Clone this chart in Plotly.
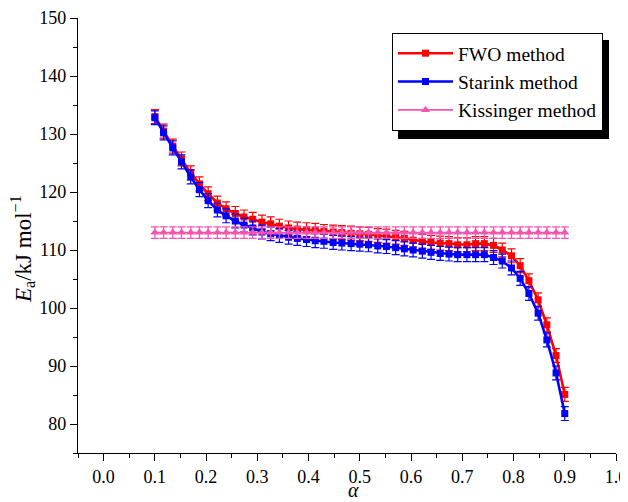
import plotly.graph_objects as go

alpha = [0.100, 0.117, 0.135, 0.152, 0.170, 0.187, 0.204, 0.222, 0.239, 0.257,
         0.274, 0.291, 0.309, 0.326, 0.343, 0.361, 0.378, 0.396, 0.413, 0.430,
         0.448, 0.465, 0.483, 0.500, 0.517, 0.535, 0.552, 0.570, 0.587, 0.604,
         0.622, 0.639, 0.657, 0.674, 0.691, 0.709, 0.726, 0.743, 0.761, 0.778,
         0.796, 0.813, 0.830, 0.848, 0.865, 0.883, 0.900]

fwo = [133.0, 130.5, 127.9, 125.7, 123.3, 121.4, 119.7, 118.1, 117.1, 116.3,
       115.7, 115.3, 114.8, 114.5, 114.1, 113.8, 113.6, 113.5, 113.4, 113.2,
       113.1, 113.0, 112.9, 112.8, 112.7, 112.5, 112.4, 112.2, 112.0, 111.7,
       111.5, 111.3, 111.2, 111.1, 110.9, 110.9, 111.1, 111.1, 110.8, 110.0,
       109.0, 107.3, 104.7, 101.4, 97.1, 91.8, 85.1]
fwo_err = [1.2] * 47

starink = [132.8, 130.2, 127.6, 125.2, 122.6, 120.4, 118.5, 116.9, 115.9, 115.0,
           114.3, 113.8, 113.1, 112.8, 112.5, 112.2, 112.0, 111.8, 111.6, 111.5,
           111.3, 111.2, 111.1, 111.0, 110.9, 110.7, 110.6, 110.4, 110.2, 110.0,
           109.8, 109.6, 109.4, 109.3, 109.2, 109.2, 109.2, 109.2, 108.7, 108.1,
           106.9, 105.1, 102.5, 99.1, 94.5, 88.8, 81.8]
starink_err = [1.2] * 47

kissinger = [113.0, 113.0, 113.0, 113.0, 113.0, 113.0, 113.0, 113.0, 113.0, 113.0,
             113.0, 113.0, 113.0, 113.0, 113.0, 113.0, 113.0, 113.0, 113.0, 113.0,
             113.0, 113.0, 113.0, 113.0, 113.0, 113.0, 113.0, 113.0, 113.0, 113.0,
             113.0, 113.0, 113.0, 113.0, 113.0, 113.0, 113.0, 113.0, 113.0, 113.0,
             113.0, 113.0, 113.0, 113.0, 113.0, 113.0, 113.0]
kissinger_err = [1.0] * 47

names = ["FWO method", "Starink method", "Kissinger method"]
x_ticks = [0.0, 0.1, 0.2, 0.3, 0.4, 0.5, 0.6, 0.7, 0.8, 0.9, 1.0]
y_ticks = [80, 90, 100, 110, 120, 130, 140, 150]
x_title = "<i>α</i>"
y_title = "<i>E</i><sub>a</sub>/kJ mol<sup>−1</sup>"

FONT = "Liberation Serif"
RED = "#FF0000"
BLUE = "#0000FF"
PINK = "#F553B0"

fig = go.Figure()
for y, err, name, color, sym, lw, ms in [
    (fwo, fwo_err, names[0], RED, "square", 2.6, 7),
    (starink, starink_err, names[1], BLUE, "square", 2.6, 7),
    (kissinger, kissinger_err, names[2], PINK, "triangle-up", 1.8, 8),
]:
    fig.add_trace(go.Scatter(
        x=alpha, y=y, name=name, mode="lines+markers",
        line=dict(color=color, width=lw),
        marker=dict(color=color, symbol=sym, size=ms),
        error_y=dict(type="data", array=err, visible=True, color=color,
                     thickness=1.2, width=4),
    ))

# The page body has an 8px margin, so the figure sits 8px right/down in the window.
OFF = 8
W, H = 628, 502
# desired plot area in window pixels
PL, PR, PT, PB = 78, 616, 18, 453
ml, mt = PL - OFF, PT - OFF
mr, mb = W - (PR - OFF), H - (PB - OFF)
pw, ph = W - ml - mr, H - mt - mb

def px_to_paper(xp, yp):
    # window pixel -> paper coords
    return (xp - OFF - ml) / pw, (H - mb - (yp - OFF)) / ph

lx, ly = px_to_paper(392, 33)
sx0, sy0 = px_to_paper(398, 139)
sx1, sy1 = px_to_paper(609, 40)

fig.add_shape(type="rect", xref="paper", yref="paper",
              x0=sx0, y0=sy0, x1=sx1, y1=sy1,
              fillcolor="black", line=dict(width=0), layer="above")

tx, ty = px_to_paper(353, 490)
fig.add_annotation(text=x_title, xref="paper", yref="paper", x=tx, y=ty,
                   showarrow=False, font=dict(family=FONT, size=20),
                   xanchor="center", yanchor="middle")
tx, ty = px_to_paper(23, 249)
fig.add_annotation(text=y_title, xref="paper", yref="paper", x=tx, y=ty,
                   showarrow=False, font=dict(family=FONT, size=23),
                   textangle=-90, xanchor="center", yanchor="middle")

fig.update_layout(
    width=W, height=H,
    margin=dict(l=ml, r=mr, t=mt, b=mb, autoexpand=False),
    paper_bgcolor="white", plot_bgcolor="white",
    font=dict(family=FONT, size=18, color="black"),
    showlegend=True,
    legend=dict(x=lx, y=ly, xanchor="left", yanchor="top",
                bgcolor="white", bordercolor="black", borderwidth=1,
                font=dict(family=FONT, size=19.5, color="black"),
                tracegroupgap=0, itemwidth=55),
    xaxis=dict(range=[-0.05, 1.0], tickvals=x_ticks,
               ticktext=[f"{v:.1f}" for v in x_ticks],
               tickfont=dict(family=FONT, size=18), automargin=False,
               showline=True, linecolor="black", linewidth=1.3,
               ticks="outside", ticklen=7, tickwidth=1.3, tickcolor="black",
               minor=dict(dtick=0.05, tick0=0, ticks="outside", ticklen=4,
                          tickwidth=1.3, tickcolor="black"),
               showgrid=False, zeroline=False),
    yaxis=dict(range=[75, 150], tickvals=y_ticks,
               tickfont=dict(family=FONT, size=18), automargin=False,
               showline=True, linecolor="black", linewidth=1.3,
               ticks="outside", ticklen=7, tickwidth=1.3, tickcolor="black",
               minor=dict(dtick=5, tick0=75, ticks="outside", ticklen=4,
                          tickwidth=1.3, tickcolor="black"),
               showgrid=False, zeroline=False),
)

fig.write_html("out.html")
